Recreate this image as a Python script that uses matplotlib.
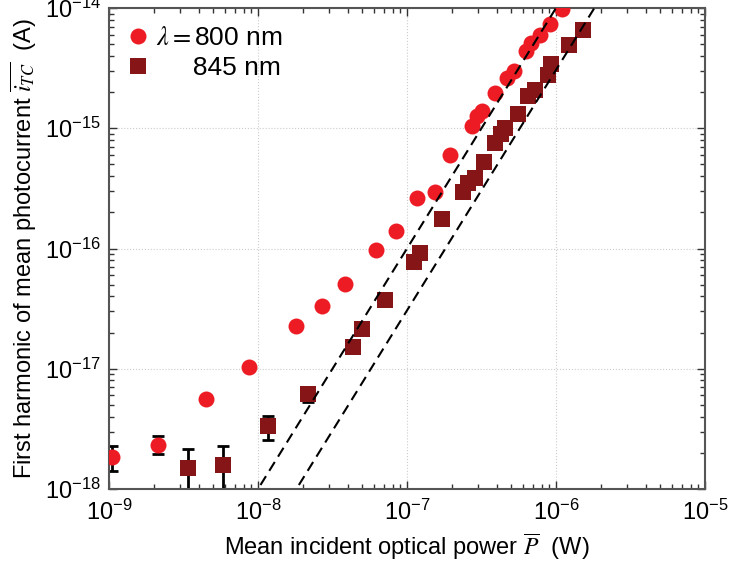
import numpy as np
import matplotlib.pyplot as plt
from matplotlib.ticker import FuncFormatter

plt.rcParams['font.family'] = ['Liberation Sans', 'DejaVu Sans']
plt.rcParams['mathtext.fontset'] = 'stix'

# lambda = 800 nm (red circles)
p_800 = [1.04e-9, 2.13e-9, 4.5e-9, 8.7e-9, 1.8e-8, 2.67e-8, 3.85e-8, 6.2e-8,
         8.5e-8, 1.17e-7, 1.55e-7, 1.95e-7, 2.72e-7, 2.97e-7, 3.21e-7, 3.92e-7,
         4.69e-7, 5.2e-7, 6.3e-7, 6.8e-7, 7.83e-7, 9.06e-7, 1.1e-6]
i_800 = [1.86e-18, 2.34e-18, 5.6e-18, 1.04e-17, 2.28e-17, 3.3e-17, 5.1e-17, 9.8e-17,
         1.41e-16, 2.61e-16, 2.97e-16, 5.96e-16, 1.04e-15, 1.26e-15, 1.38e-15, 1.96e-15,
         2.64e-15, 2.97e-15, 4.35e-15, 5.1e-15, 6.0e-15, 7.4e-15, 9.8e-15]

# lambda = 845 nm (dark red squares)
p_845 = [3.38e-9, 5.86e-9, 1.17e-8, 2.17e-8, 4.37e-8, 4.97e-8, 7.1e-8, 1.11e-7,
         1.23e-7, 1.72e-7, 2.36e-7, 2.58e-7, 2.85e-7, 3.27e-7, 3.92e-7, 4.27e-7,
         4.57e-7, 5.6e-7, 6.5e-7, 7.2e-7, 8.8e-7, 9.3e-7, 1.22e-6, 1.51e-6]
i_845 = [1.49e-18, 1.58e-18, 3.37e-18, 6.2e-18, 1.52e-17, 2.15e-17, 3.7e-17, 7.7e-17,
         9.1e-17, 1.75e-16, 2.97e-16, 3.48e-16, 3.83e-16, 5.28e-16, 7.5e-16, 8.9e-16,
         1.0e-15, 1.31e-15, 1.87e-15, 2.09e-15, 2.78e-15, 3.44e-15, 4.94e-15, 6.5e-15]

# error bars (lower, upper bounds) for the low-power points
err_800_idx = [0, 1]
err_800_lo = [1.42e-18, 1.96e-18]
err_800_hi = [2.3e-18, 2.78e-18]
err_845_idx = [0, 1, 2, 3]
err_845_lo = [0.7e-18, 0.8e-18, 2.57e-18, 5.3e-18]
err_845_hi = [2.15e-18, 2.29e-18, 4.07e-18, 6.9e-18]

# quadratic guide lines I = 1e-18 * (P / P0)^2
guide_p0 = [1.0e-8, 1.81e-8]

fig = plt.figure(figsize=(7.29, 5.69), dpi=100)
ax = fig.add_axes([109/729, 1 - 489/569, (705-109)/729, (489-8)/569])

red = '#ED1C24'
dark = '#861518'

for idx, lo, hi, src_p, src_i in [(err_800_idx, err_800_lo, err_800_hi, p_800, i_800),
                                  (err_845_idx, err_845_lo, err_845_hi, p_845, i_845)]:
    xs = np.array([src_p[k] for k in idx])
    ys = np.array([src_i[k] for k in idx])
    yerr = [ys - np.array(lo), np.array(hi) - ys]
    ax.errorbar(xs, ys, yerr=yerr, fmt='none', ecolor='black', elinewidth=2,
                capsize=4.5, capthick=2, zorder=2)

ax.plot(p_800, i_800, 'o', color=red, markersize=11.5, markeredgewidth=0,
        label=r'$\lambda =$800 nm', zorder=3)
ax.plot(p_845, i_845, 's', color=dark, markersize=11, markeredgewidth=0,
        label='     845 nm', zorder=3)

pp = np.logspace(-9, -5, 200)
for p0 in guide_p0:
    ax.plot(pp, 1e-18 * (pp / p0) ** 2, '--', color='black', lw=1.5,
            dashes=(5, 3), zorder=4)

ax.set_xscale('log')
ax.set_yscale('log')
ax.set_xlim(1e-9, 1e-5)
ax.set_ylim(1e-18, 1e-14)

pow10 = FuncFormatter(lambda v, _: r'$\mathregular{10^{%d}}$' % round(np.log10(v)))
ax.xaxis.set_major_formatter(pow10)
ax.yaxis.set_major_formatter(pow10)

ax.grid(True, which='major', color='#cccccc', linestyle=':', linewidth=0.8)
ax.tick_params(which='both', direction='in', top=True, right=True,
               labelsize=17, color='#333333')
ax.tick_params(which='major', length=6, width=1)
ax.tick_params(which='minor', length=3.5, width=1)
ax.tick_params(axis='x', pad=8)
ax.tick_params(axis='y', pad=6)
for s in ax.spines.values():
    s.set_color('#555555')
    s.set_linewidth(1.5)

ax.set_xlabel(r'Mean incident optical power $\overline{P}$  (W)', fontsize=17, labelpad=4)
ax.set_ylabel(r'First harmonic of mean photocurrent $\overline{i_{TC}}$  (A)',
              fontsize=17, labelpad=4)

ax.legend(loc='upper left', frameon=False, fontsize=19, handletextpad=0.3,
          borderaxespad=0.3, labelspacing=0.2, handlelength=0.8)

fig.savefig('out.png', dpi=100)
